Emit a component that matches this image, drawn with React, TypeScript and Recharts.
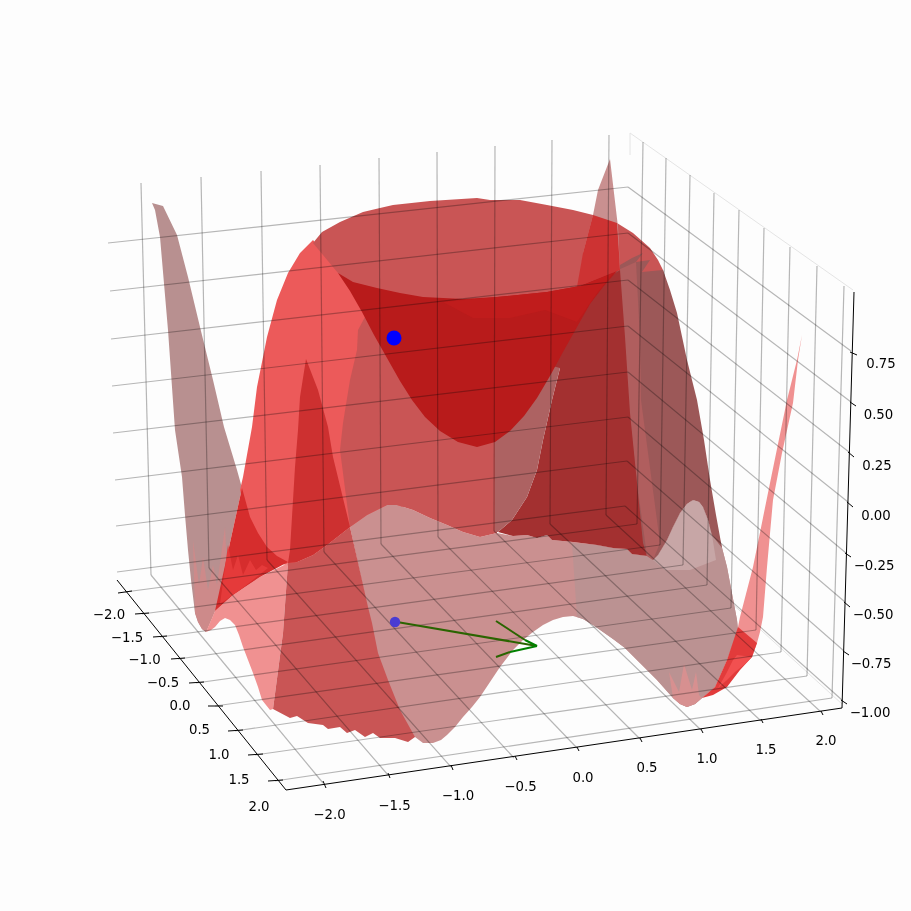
import React from "react";
import { ScatterChart, Scatter, XAxis, YAxis } from "recharts";

type P = number[];
const S = 911;

// ---- projected axis geometry (picture plane) ----
const zLeft: P[] = [[108,243],[110,291],[111,339],[112,386],[113,433],[115,480],[116,526],[117,572]];
const zBack: P[] = [[628,187],[628,233],[628,280],[628,326],[628,372],[628,417],[627,461],[625,506]];
const zRight: P[] = [[851,351],[851,402],[849,452],[848,502],[846,553],[845,602],[844,651],[842,700]];
const wallLTop: P[] = [[141,183],[201,177],[261,171],[320,165],[379,158],[437,152],[495,146],[552,140],[609,135]];
const wallLBot: P[] = [[151,575],[209,568],[267,560],[324,552],[381,544],[438,537],[494,531],[550,524],[606,515]];
const wallRTop: P[] = [[643,142],[666,158],[690,175],[714,193],[739,210],[764,228],[790,247],[817,266],[844,286]];
const wallRBot: P[] = [[637,524],[660,545],[683,565],[707,585],[731,608],[756,630],[781,652],[807,676],[832,698]];
const floorFront: P[] = [[323,783],[388,775],[451,767],[514,758],[577,748],[640,739],[701,730],[761,721],[821,712]];
const floorLeft: P[] = [[125,592],[142,614],[160,637],[178,659],[196,683],[215,706],[235,731],[255,755],[275,781]];
const paneEdges: P[][] = [[[630,133],[853,290]],[[630,133],[630,155]],[[625,506],[842,704]]];

const axisLines: P[][] = [[[117,580],[286,790]],[[286,790],[842,708]],[[842,708],[854,292]]];
const tickSegs: P[][] = [
  [[118,593],[132,591]],[[135,614],[149,613]],[[153,637],[167,636]],[[171,659],[185,658]],[[189,683],[204,682]],[[208,706],[223,706]],[[228,731],[243,730]],[[248,755],[263,754]],[[268,781],[283,780]],
  [[323,781],[326,788]],[[388,773],[390,778]],[[451,765],[453,770]],[[515,756],[517,760]],[[577,747],[579,751]],[[640,738],[642,742]],[[701,729],[703,733]],[[761,719],[763,723]],[[821,711],[823,715]],
  [[850,352],[857,355]],[[850,402],[856,406]],[[848,452],[854,457]],[[847,502],[853,507]],[[845,553],[851,557]],[[844,602],[850,607]],[[843,651],[849,655]],[[841,700],[847,704]],
];

const leftLabels = ["\u22122.0","\u22121.5","\u22121.0","\u22120.5","0.0","0.5","1.0","1.5","2.0"];
const leftLabelPos: P[] = [[109,614],[127,637],[144.5,659],[163,682],[180,705],[199.5,729],[219,754],[239,779],[259,806]];
const frontLabelPos: P[] = [[329.5,814],[394.5,805],[458,795],[520.5,786],[583,777],[647,767],[707,758],[766,749],[826,740]];
const zLabels = ["0.75","0.50","0.25","0.00","\u22120.25","\u22120.50","\u22120.75","\u22121.00"];
const zLabelPos: P[] = [[881,363],[878.5,414],[877,465],[876,515],[874,565],[873,614],[871,663],[870,712]];

// ---- surface outlines, back to front ----
const leftRose: P[] = [[152,203],[163,206],[177,235],[188,277],[200,327],[213,380],[224,427],[237,470],[242,488],[215,611],[206,632],[202,629],[198,622],[195,613],[191,580],[188,550],[185,515],[182,477],[175,430],[168,330],[160,237],[155,210]];
const leftTeeth: P[] = [[193,540],[199,585],[203,557],[208,590],[213,565],[217,585],[225,527],[228,590],[215,611],[206,632],[202,629],[198,622],[195,613]];
const domeLit: P[] = [[313,240],[300,253],[288,273],[277,300],[267,337],[257,387],[252,427],[243,477],[240,490],[250,530],[268,560],[290,566],[297,562],[313,555],[327,545],[350,527],[420,500],[400,300],[340,273]];
const frontPink: P[] = [[206,632],[211,630],[215,627],[220,621],[225,618],[230,620],[235,625],[239,635],[243,647],[248,660],[253,673],[258,687],[262,700],[270,710],[273,709],[283,633],[288,563],[260,577],[233,595],[215,611]];
const wedge: P[] = [[242,488],[250,517],[258,533],[267,547],[277,556],[288,562],[260,577],[233,595],[215,611]];
const wedgeTeeth: P[] = [[228,545],[233,570],[238,555],[243,575],[250,560],[256,570],[262,565],[268,568],[240,590],[220,604]];
const frontRose: P[] = [[350,527],[367,515],[387,505],[397,505],[413,510],[430,518],[447,525],[463,532],[480,537],[497,533],[513,536],[527,535],[537,538],[547,535],[552,540],[573,542],[597,545],[613,548],[627,549],[632,554],[647,556],[653,560],[658,555],[667,540],[680,513],[693,500],[703,507],[710,527],[720,540],[727,567],[737,620],[738,630],[727,660],[715,687],[702,698],[695,704],[687,707],[680,704],[673,698],[657,680],[640,663],[625,648],[613,639],[603,632],[593,625],[583,619],[573,616],[563,617],[553,620],[543,625],[533,632],[523,640],[513,650],[500,667],[490,682],[480,697],[472,707],[463,717],[455,727],[447,735],[441,740],[433,743],[423,743],[415,737],[395,738],[370,620]];
const rightRose: P[] = [[572,543],[597,545],[613,548],[627,549],[632,554],[647,556],[653,560],[658,555],[667,540],[680,513],[693,500],[703,507],[710,527],[720,540],[727,567],[737,620],[738,630],[727,660],[715,687],[702,698],[695,704],[687,707],[680,704],[673,698],[657,680],[640,663],[625,648],[613,639],[603,632],[593,625],[583,619],[577,617]];
const hump: P[] = [[653,560],[658,555],[667,540],[673,527],[680,513],[687,504],[693,500],[699,502],[703,507],[708,520],[712,535],[716,560],[690,570],[665,570]];
const rightTeeth: P[] = [[687,707],[680,704],[673,698],[669,672],[679,692],[684,664],[692,690],[696,672],[699,695],[702,698],[695,704]];
const lowerInner: P[] = [[365,317],[358,330],[357,350],[350,380],[343,423],[340,450],[350,527],[367,515],[387,505],[397,505],[413,510],[430,518],[447,525],[463,532],[480,537],[497,533],[500,430],[480,300],[400,300]];
const ellipse: P[] = [[313,243],[322,232],[340,222],[363,212],[380,208],[393,205],[430,201],[477,198],[490,200],[520,200],[547,205],[573,210],[593,215],[617,223],[633,233],[650,248],[658,260],[663,270],[668,290],[640,300],[620,290],[540,320],[430,320],[360,300],[338,273]];
const brownWall: P[] = [[620,265],[632,258],[643,253],[636,262],[650,260],[642,272],[663,270],[670,290],[677,313],[687,360],[697,400],[704,440],[710,480],[716,515],[722,548],[712,535],[708,520],[703,507],[699,502],[693,500],[687,504],[680,513],[673,527],[667,540],[658,555],[653,560],[647,556],[620,500],[600,300]];
const brownStrip: P[] = [[618,270],[636,262],[640,340],[641,400],[660,543],[653,560],[647,556],[637,483],[628,400]];
const darkCentral: P[] = [[617,272],[570,300],[540,370],[560,368],[552,400],[543,440],[537,470],[527,497],[512,520],[498,532],[513,536],[527,535],[537,538],[547,535],[552,540],[573,542],[597,545],[613,548],[627,549],[632,554],[647,556],[643,543],[637,483],[630,413],[625,337],[620,270]];
const roseStrip: P[] = [[560,368],[552,400],[543,440],[537,470],[527,497],[512,520],[498,532],[495,532],[495,430],[530,360]];
const spike: P[] = [[610,159],[618,227],[620,270],[598,270],[583,253],[593,215],[598,190]];
const spikeOnDome: P[] = [[593,215],[617,223],[619,253],[620,270],[577,287],[583,253]];
const bowl: P[] = [[338,273],[353,282],[377,288],[400,293],[423,297],[463,299],[497,297],[547,292],[580,286],[617,271],[603,287],[590,304],[577,327],[563,352],[550,376],[537,398],[524,416],[510,431],[495,442],[477,447],[458,442],[440,431],[425,417],[412,400],[400,381],[387,358],[374,335],[362,312],[350,291]];
const bowlRim: P[] = [[443,302],[497,297],[547,292],[580,286],[613,273],[597,293],[577,322],[545,310],[510,318],[473,318]];
const peak: P[] = [[306,359],[318,390],[328,427],[333,457],[350,527],[327,545],[313,555],[297,562],[288,563],[290,550],[295,467],[298,430],[300,397]];
const frontBand: P[] = [[288,563],[297,562],[313,555],[327,545],[350,527],[368,607],[372,623],[378,653],[388,680],[400,710],[415,737],[408,742],[395,738],[380,738],[373,733],[365,737],[355,730],[347,733],[340,727],[328,729],[323,725],[308,723],[297,716],[290,718],[273,709],[283,633]];
const pinkStrip: P[] = [[802,335],[798,360],[793,403],[782,453],[773,500],[767,567],[763,617],[760,632],[757,643],[752,657],[738,627],[740,617],[753,567],[770,483],[787,400],[797,360]];
const rightWedge: P[] = [[738,627],[757,643],[752,657],[740,670],[727,687],[713,695],[702,698],[715,687],[727,660]];
const rightWedgeTeeth: P[] = [[737,655],[752,657],[745,664],[735,672],[727,680],[718,688],[726,674],[733,660]];

// polygon name, outline, colour
const layers: [string, P[], string][] = [
  ["leftRose", leftRose, "#b89090"],
  ["leftTeeth", leftTeeth, "#cd8a8a"],
  ["domeLit", domeLit, "#ec5a5a"],
  ["frontPink", frontPink, "#f09191"],
  ["wedge", wedge, "#d62d2d"],
  ["wedgeTeeth", wedgeTeeth, "#e53a3a"],
  ["frontRose", frontRose, "#ca9090"],
  ["rightRose", rightRose, "#bb9292"],
  ["hump", hump, "#c7a6a6"],
  ["rightTeeth", rightTeeth, "#d79090"],
  ["lowerInner", lowerInner, "#c95555"],
  ["ellipse", ellipse, "#c95555"],
  ["brownWall", brownWall, "#9c5858"],
  ["brownStrip", brownStrip, "#b05e5e"],
  ["spike", spike, "#c99090"],
  ["darkCentral", darkCentral, "#a33030"],
  ["roseStrip", roseStrip, "#ad6262"],
  ["spikeOnDome", spikeOnDome, "#cd3333"],
  ["bowl", bowl, "#b81b1b"],
  ["bowlRim", bowlRim, "#c01c1c"],
  ["frontBand", frontBand, "#c95555"],
  ["peak", peak, "#cd3030"],
  ["pinkStrip", pinkStrip, "#f09191"],
  ["rightWedge", rightWedge, "#e23b3b"],
  ["rightWedgeTeeth", rightWedgeTeeth, "#f25050"],
];

// ---- marker and arrow ----
const topDot: P[] = [[394,338]];
const lowDot: P[] = [[395,622]];
const shaft: P[] = [[397,622],[537,646]];
const headUpDark: P[] = [[496,621],[525,640]];
const headUpBright: P[] = [[525,640],[537,646]];
const headLowDark: P[] = [[496,657],[510,652]];
const headLowBright: P[] = [[510,652],[537,646]];

const pts = (a: P[]) => a.map(([x, y]) => ({ x, y }));
const labelled = (a: P[], l: string[]) => a.map(([x, y], i) => ({ x, y, label: l[i] }));
const none = () => <g />;

const gridSegs: P[][] = [
  ...zLeft.map((p, i) => [p, zBack[i]]),
  ...zBack.map((p, i) => [p, zRight[i]]),
  ...wallLTop.map((p, i) => [p, wallLBot[i]]),
  ...wallRTop.map((p, i) => [p, wallRBot[i]]),
  ...wallLBot.map((p, i) => [p, floorFront[i]]),
  ...floorLeft.map((p, i) => [p, wallRBot[i]]),
];

const labelShape = (p: any) => (
  <text x={p.cx} y={p.cy} textAnchor="middle" dominantBaseline="central" fontFamily="DejaVu Sans" fontSize={13.3} fill="#000">
    {p.payload.label}
  </text>
);

const seg = (d: P[], key: string, stroke: string, width: number, cls?: string) => (
  <Scatter
    key={key}
    data={pts(d)}
    className={cls}
    shape={none}
    line={{ stroke, strokeWidth: width, fill: "none" }}
    isAnimationActive={false}
  />
);

export default function App() {
  return (
    <div style={{ position: "fixed", left: 0, top: 0, width: S, height: S, background: "#fdfdfd" }}>
      <style>{`.grid-line path{mix-blend-mode:multiply}`}</style>
      <ScatterChart width={S} height={S} margin={{ top: 0, right: 0, bottom: 0, left: 0 }}>
        <XAxis type="number" dataKey="x" domain={[0, S]} hide />
        <YAxis type="number" dataKey="y" domain={[0, S]} reversed hide />
        {paneEdges.map((d, i) => seg(d, "e" + i, "#e4e4e4", 1))}
        {layers.map(([name, outline, colour]) => (
          <Scatter
            key={name}
            name={name}
            data={pts(outline)}
            shape={none}
            line={{ stroke: "none", fill: colour, fillOpacity: 1 }}
            isAnimationActive={false}
          />
        ))}
        {gridSegs.map((d, i) => seg(d, "g" + i, "#b8b8b8", 1.2, "grid-line"))}
        {axisLines.map((d, i) => seg(d, "a" + i, "#000", 1))}
        {tickSegs.map((d, i) => seg(d, "t" + i, "#000", 1))}
        <Scatter data={labelled(leftLabelPos, leftLabels)} shape={labelShape} isAnimationActive={false} />
        <Scatter data={labelled(frontLabelPos, leftLabels)} shape={labelShape} isAnimationActive={false} />
        <Scatter data={labelled(zLabelPos, zLabels)} shape={labelShape} isAnimationActive={false} />
        {seg(shaft, "shaft", "#2a6400", 2)}
        {seg(headUpDark, "hud", "#2a6400", 2)}
        {seg(headUpBright, "hub", "#008000", 2)}
        {seg(headLowDark, "hld", "#2a6400", 2)}
        {seg(headLowBright, "hlb", "#008000", 2)}
        <Scatter data={pts(topDot)} shape={(p: any) => <circle cx={p.cx} cy={p.cy} r={7.5} fill="#0000ff" />} isAnimationActive={false} />
        <Scatter data={pts(lowDot)} shape={(p: any) => <circle cx={p.cx} cy={p.cy} r={5.2} fill="#4a3cd2" />} isAnimationActive={false} />
      </ScatterChart>
    </div>
  );
}
